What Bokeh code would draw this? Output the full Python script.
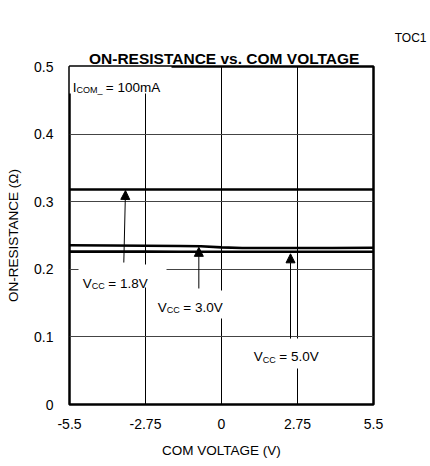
from bokeh.plotting import figure
from bokeh.models import (Range1d, FixedTicker, Title, Label, Arrow, NormalHead,
                          ColumnDataSource, LinearAxis)
from bokeh.embed import file_html
from bokeh.resources import INLINE

# ---------------- data ----------------
com_voltage = [-5.5, -4.0, -2.75, -1.5, -0.75, 0.0, 0.75, 1.5, 2.75, 4.0, 5.5]
ron_vcc18 = [0.318, 0.318, 0.318, 0.318, 0.318, 0.318, 0.318, 0.318, 0.318, 0.318, 0.318]
ron_vcc30 = [0.2355, 0.2352, 0.2348, 0.2344, 0.2340, 0.2325, 0.2316, 0.2315, 0.2315, 0.2316, 0.2318]
ron_vcc50 = [0.2262, 0.2262, 0.2261, 0.2260, 0.2260, 0.2260, 0.2259, 0.2259, 0.2259, 0.2259, 0.2260]

x_ticks = [-5.5, -2.75, 0, 2.75, 5.5]
x_tick_labels = ["-5.5", "-2.75", "0", "2.75", "5.5"]
y_ticks = [0, 0.1, 0.2, 0.3, 0.4, 0.5]
y_tick_labels = ["0", "0.1", "0.2", "0.3", "0.4", "0.5"]

title_text = "ON-RESISTANCE vs. COM VOLTAGE"
tag_text = "TOC1"

# annotation text (main, subscript, rest)
ann_main = ["I", "V", "V", "V"]
ann_sub = ["COM_", "CC", "CC", "CC"]
ann_rest = ["= 100mA", "= 1.8V", "= 3.0V", "= 5.0V"]
ann_x = [-5.381, -5.019, -2.305, 1.169]
ann_y = [0.4694, 0.1794, 0.1439, 0.0710]
ann_sub_dx = [3.8, 9.0, 9.0, 9.0]
ann_rest_dx = [33.0, 25.5, 25.5, 25.5]

# white masks behind annotation texts
mask_left = [-5.5, -5.174, -2.569, 0.868]
mask_right = [-1.809, -1.990, 0.6875, 3.763]
mask_top = [0.5, 0.2071, 0.1686, 0.0976]
mask_bottom = [0.4601, 0.1731, 0.1272, 0.0533]

# arrows (x_start, y_start, x_end, y_end)
arr_x0 = [-3.535, -0.82, 2.497]
arr_y0 = [0.210, 0.1716, 0.0975]
arr_x1 = [-3.474, -0.82, 2.497]
arr_y1 = [0.3166, 0.2325, 0.2229]

FONT = "Liberation Sans"

p = figure(width=430, height=466, output_backend="svg", toolbar_location=None,
           x_range=Range1d(-5.5, 5.5), y_range=Range1d(0, 0.5),
           min_border_left=69, min_border_right=57, min_border_top=66,
           min_border_bottom=62, background_fill_color="white",
           border_fill_color="white")

xax = p.below[0]
yax = p.left[0]

# outermost title: TOC1
p.title.text = tag_text
p.title.text_font = FONT
p.title.text_font_size = "12px"
p.title.text_font_style = "normal"
p.title.align = "right"
p.title.offset = -53
p.title.standoff = 4.4
p.title.text_color = "black"

# empty spacer between title and frame (added first: nearest the frame)
spacer = LinearAxis(ticker=FixedTicker(ticks=[]), axis_line_color=None,
                    major_tick_line_color="white", minor_tick_line_color=None,
                    major_tick_out=22, major_tick_in=0, minor_tick_out=0,
                    minor_tick_in=0)
p.add_layout(spacer, "above")

main_title = Title(text=title_text, align="left", offset=19.5,
                   text_font=FONT, text_font_size="15.5px", text_font_style="bold",
                   text_color="black", standoff=0)
p.add_layout(main_title, "above")

p.outline_line_color = "black"
p.outline_line_width = 2.5

for ax in (xax, yax):
    ax.axis_line_color = None
    ax.major_tick_line_color = None
    ax.minor_tick_line_color = None
    ax.major_tick_in = 0
    ax.major_tick_out = 0
    ax.minor_tick_in = 0
    ax.minor_tick_out = 0
    ax.major_label_text_font = FONT
    ax.major_label_text_font_size = "14px"
    ax.major_label_text_color = "black"
    ax.axis_label_text_font = FONT
    ax.axis_label_text_font_size = "13.5px"
    ax.axis_label_text_font_style = "normal"
    ax.axis_label_text_color = "black"

xax.ticker = FixedTicker(ticks=x_ticks)
xax.major_label_overrides = dict(zip(x_ticks, x_tick_labels))
yax.ticker = FixedTicker(ticks=y_ticks)
yax.major_label_overrides = dict(zip(y_ticks, y_tick_labels))
xax.axis_label = "COM VOLTAGE (V)"
yax.axis_label = "ON-RESISTANCE (Ω)"
xax.major_label_standoff = 14
xax.axis_label_standoff = 11
yax.major_label_standoff = 16
yax.axis_label_standoff = 10

p.xgrid.grid_line_color = "black"
p.xgrid.grid_line_width = 1
p.ygrid.grid_line_color = "#444444"
p.ygrid.grid_line_width = 1

# white masks under annotation texts
p.quad(left=mask_left, right=mask_right, top=mask_top, bottom=mask_bottom,
       fill_color="white", line_color=None)

src = ColumnDataSource(dict(x=com_voltage, a=ron_vcc18, b=ron_vcc30, c=ron_vcc50))
for col in ("a", "b", "c"):
    p.line("x", col, source=src, line_color="black", line_width=2.6)

for x0, y0, x1, y1 in zip(arr_x0, arr_y0, arr_x1, arr_y1):
    p.add_layout(Arrow(x_start=x0, y_start=y0, x_end=x1, y_end=y1,
                       line_color="black", line_width=1,
                       end=NormalHead(size=9, fill_color="black", line_color="black",
                                      line_width=1)))

for m, s, r, x, y, sdx, rdx in zip(ann_main, ann_sub, ann_rest, ann_x, ann_y,
                                    ann_sub_dx, ann_rest_dx):
    p.add_layout(Label(x=x, y=y, text=m, text_font=FONT, text_font_size="13.5px",
                       text_baseline="alphabetic", text_align="left", text_color="black"))
    p.add_layout(Label(x=x, y=y, x_offset=sdx, y_offset=-3, text=s, text_font=FONT,
                       text_font_size="9px", text_baseline="alphabetic",
                       text_align="left", text_color="black"))
    p.add_layout(Label(x=x, y=y, x_offset=rdx, text=r, text_font=FONT,
                       text_font_size="13.5px", text_baseline="alphabetic",
                       text_align="left", text_color="black"))

open("out.html", "w").write(file_html(p, INLINE))
